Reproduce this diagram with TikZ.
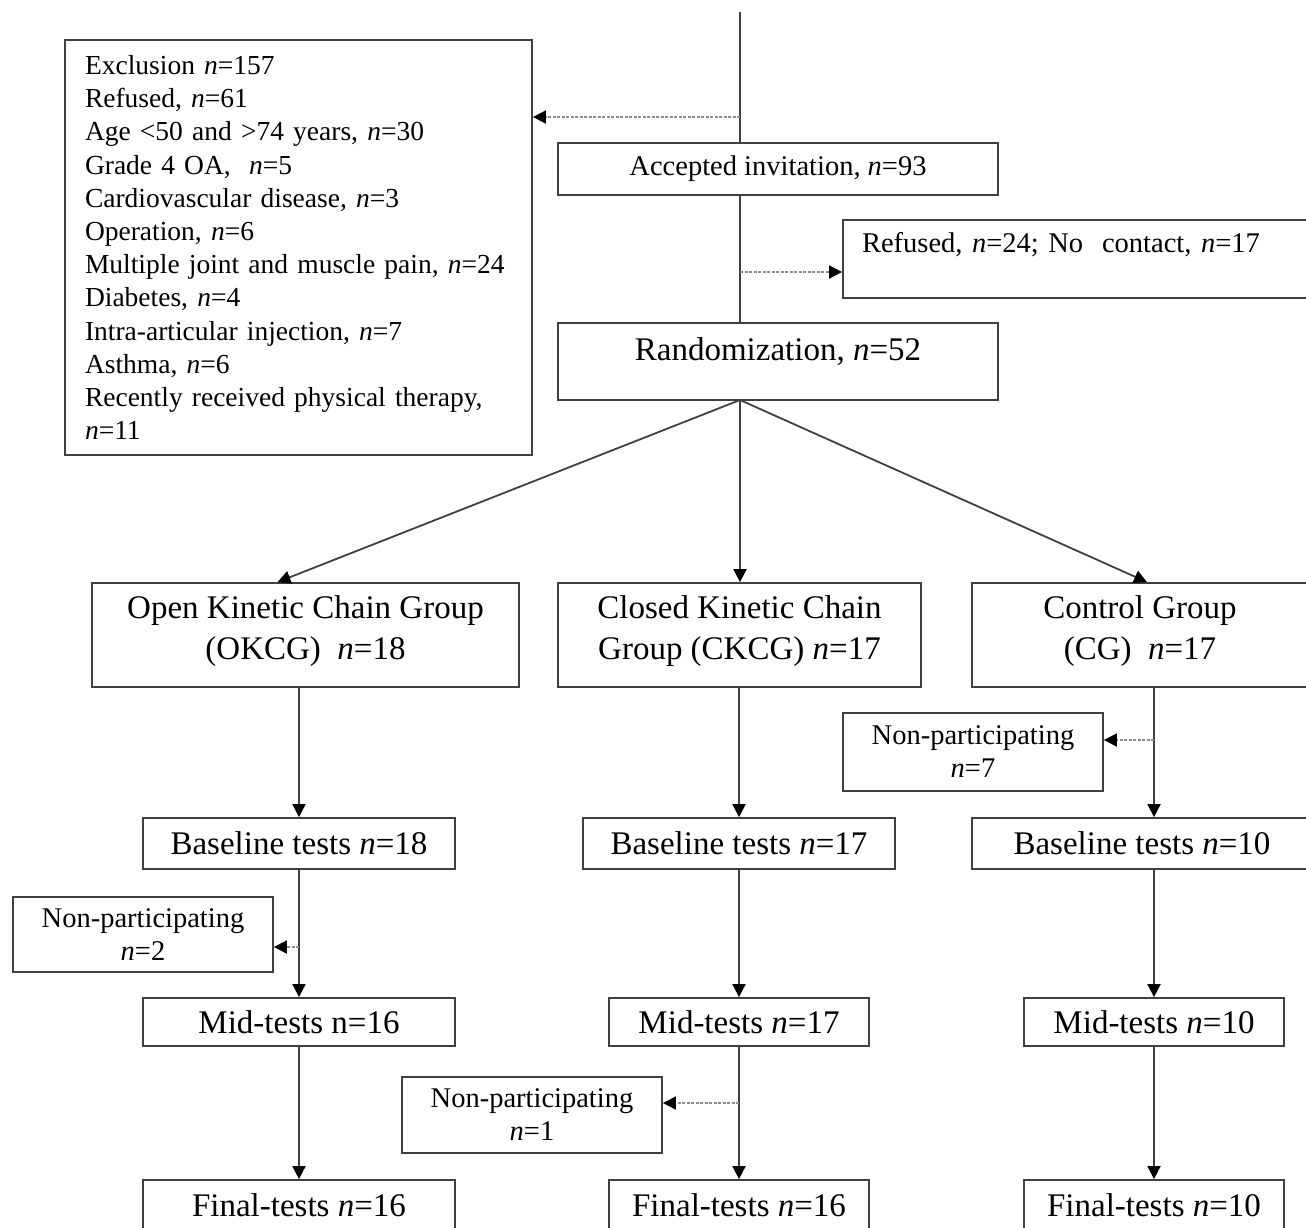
\documentclass[tikz,border=0pt]{standalone}
\usepackage{fontspec}
\setmainfont{Liberation Serif}
\usepackage{xcolor}
\usepackage{tikz}
\usetikzlibrary{positioning,arrows.meta}

\newcommand{\nn}{\textit{n}}

\begin{document}
\begin{tikzpicture}[
				x=1pt, y=-1pt,
				>={Triangle[length=13pt,width=13pt,color=black]},
				box/.style={
					rectangle,
					draw=black!75,
					line width=1.8pt,
					inner sep=0pt,
					align=center,
					font=\fontsize{33}{41}\selectfont
				},
				smallbox/.style={
					box,
					font=\fontsize{28.5}{33}\selectfont
				},
				line/.style={
					draw=black!75,
					line width=1.8pt
				},
				arrow/.style={
					line,
					->
				},
				dotarrow/.style={
					->,
					draw=black!45,
					line width=1.8pt,
					dash pattern=on 3pt off 1.5pt
				}
			]
			\useasboundingbox (0,0) rectangle (1306,1227);
			% Nodes
			\node[box, font=\fontsize{27.5}{33.2}\selectfont, minimum width=467pt, minimum height=415pt, text width=427pt, align=left] (excl) at (298.5,247.5) {Exclusion \nn=157\\ Refused, \nn=61\\ Age <50 and >74 years, \nn=30\\ Grade 4 OA,~ \nn=5\\ Cardiovascular disease, \nn=3\\ Operation, \nn=6\\ Multiple joint and muscle pain, \nn=24\\ Diabetes, \nn=4\\ Intra-articular injection, \nn=7\\ Asthma, \nn=6\\ Recently received physical therapy,\\ \nn=11};
			\node[smallbox, minimum width=440pt, minimum height=52pt] (accepted) at (778,169) {Accepted invitation, \nn=93};
			\node[smallbox, minimum width=477pt, minimum height=78pt, text width=439pt, align=left] (refused) at (1081.5,259) {Refused, \nn=24; No~ contact, \nn=17\\ ~};
			\node[box, minimum width=440pt, minimum height=77pt, text height=24pt, text depth=26pt] (rand) at (778,361.5) {Randomization, \nn=52};

			\node[box, minimum width=427pt, minimum height=104pt, text depth=14pt] (okcg) at (305.5,635) {Open Kinetic Chain Group\\ (OKCG)~ \nn=18};
			\node[box, minimum width=363pt, minimum height=104pt, text depth=14pt] (ckcg) at (739.5,635) {Closed Kinetic Chain\\ Group (CKCG) \nn=17};
			\node[box, minimum width=336pt, minimum height=104pt, text depth=14pt] (cg) at (1140,635) {Control Group\\ (CG)~ \nn=17};

			\node[smallbox, minimum width=260pt, minimum height=78pt] (np3) at (973,752) {Non-participating\\ \nn=7};

			\node[box, minimum width=312pt, minimum height=51pt] (base1) at (299,843.5) {Baseline tests \nn=18};
			\node[box, minimum width=312pt, minimum height=51pt] (base2) at (739,843.5) {Baseline tests \nn=17};
			\node[box, minimum width=340pt, minimum height=51pt] (base3) at (1142,843.5) {Baseline tests \nn=10};

			\node[smallbox, minimum width=260pt, minimum height=75pt] (np1) at (143,934.5) {Non-participating\\ \nn=2};

			\node[box, minimum width=312pt, minimum height=48pt] (mid1) at (299,1022) {Mid-tests n=16};
			\node[box, minimum width=260pt, minimum height=48pt] (mid2) at (739,1022) {Mid-tests \nn=17};
			\node[box, minimum width=260pt, minimum height=48pt] (mid3) at (1154,1022) {Mid-tests \nn=10};

			\node[smallbox, minimum width=260pt, minimum height=76pt] (np2) at (532,1115) {Non-participating\\ \nn=1};

			\node[box, minimum width=312pt, minimum height=50pt] (final1) at (299,1205) {Final-tests \nn=16};
			\node[box, minimum width=260pt, minimum height=50pt] (final2) at (739,1205) {Final-tests \nn=16};
			\node[box, minimum width=260pt, minimum height=50pt] (final3) at (1154,1205) {Final-tests \nn=10};

			% Trunk
			\coordinate (top) at (740,12);
			\coordinate (exclout) at (740,117);
			\coordinate (refout) at (740,272);
			\coordinate (split) at (740,400);
			\draw[line] (top) -- (top |- accepted.north);
			\draw[line] (top |- accepted.south) -- (top |- rand.north);
			\draw[dotarrow] (exclout) -- (exclout -| excl.east);
			\draw[dotarrow] (refout) -- (refout -| refused.west);

			% Groups
			\draw[arrow] (split) -- ([xshift=-28pt]okcg.north);
			\draw[arrow] (split) -- (split |- ckcg.north);
			\draw[arrow] (split) -- ([xshift=7pt]cg.north);

			% Columns
			\draw[arrow] (okcg.south -| base1.north) -- (base1.north);
			\draw[arrow] (base1.south) -- (mid1.north);
			\draw[arrow] (mid1.south) -- (final1.north);
			\draw[arrow] (ckcg.south -| base2.north) -- (base2.north);
			\draw[arrow] (base2.south) -- (mid2.north);
			\draw[arrow] (mid2.south) -- (final2.north);
			\draw[arrow] (cg.south -| mid3.north) -- (mid3.north |- base3.north);
			\draw[arrow] (mid3.north |- base3.south) -- (mid3.north);
			\draw[arrow] (mid3.south) -- (final3.north);

			% Drop-outs
			\coordinate (np1lvl) at ([yshift=-12.5pt]np1.east);
			\coordinate (np2lvl) at ([yshift=12pt]np2.east);
			\coordinate (np3lvl) at ([yshift=12pt]np3.east);
			\coordinate (np1out) at (base1.south |- np1lvl);
			\coordinate (np2out) at (mid2.south |- np2lvl);
			\coordinate (np3out) at (mid3.north |- np3lvl);
			\draw[dotarrow] (np1out) -- (np1lvl);
			\draw[dotarrow] (np2out) -- (np2lvl);
			\draw[dotarrow] (np3out) -- (np3lvl);
		\end{tikzpicture}
\end{document}
